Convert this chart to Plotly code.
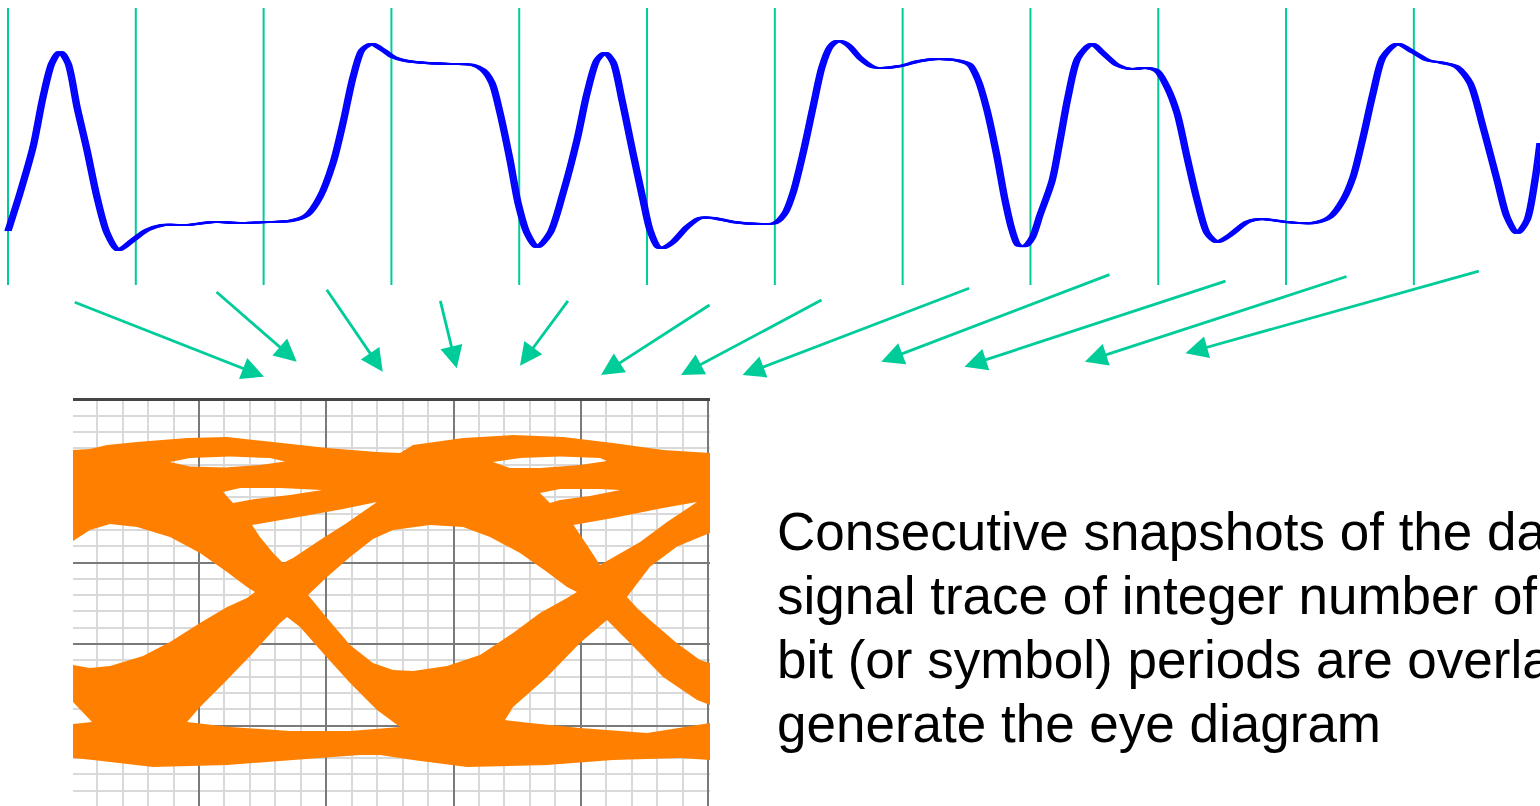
import plotly.graph_objects as go

# ---------------------------------------------------------------------------
# Serial data waveform: time in unit intervals (UI), amplitude in mV
# ---------------------------------------------------------------------------
wave_t = [0.000, 0.094, 0.196, 0.274, 0.344, 0.407, 0.469, 0.540, 0.618, 0.696,
          0.775, 0.861, 0.978, 1.088, 1.213, 1.401, 1.604, 1.815, 2.027, 2.207,
          2.340, 2.441, 2.543, 2.621, 2.700, 2.770, 2.848, 2.934, 3.013, 3.122,
          3.279, 3.482, 3.638, 3.717, 3.787, 3.850, 3.928, 3.991, 4.061, 4.139,
          4.241, 4.343, 4.452, 4.531, 4.609, 4.671, 4.734, 4.804, 4.890, 4.969,
          5.023, 5.086, 5.125, 5.203, 5.313, 5.415, 5.516, 5.673, 5.884, 6.002,
          6.080, 6.142, 6.221, 6.299, 6.369, 6.432, 6.495, 6.573, 6.667, 6.768,
          6.847, 6.980, 7.136, 7.269, 7.449, 7.527, 7.590, 7.660, 7.739, 7.801,
          7.856, 7.903, 7.958, 8.013, 8.075, 8.169, 8.232, 8.294, 8.372, 8.482,
          8.568, 8.678, 8.779, 8.912, 8.991, 9.069, 9.147, 9.225, 9.304, 9.382,
          9.460, 9.562, 9.695, 9.797, 10.008, 10.211, 10.344, 10.446, 10.524, 10.603,
          10.681, 10.759, 10.869, 10.994, 11.103, 11.228, 11.338, 11.440, 11.541, 11.651,
          11.729, 11.808, 11.886, 11.948, 11.987]
wave_mv = [-25, 70, 185, 310, 395, 422.5, 395, 285, 177.5, 60,
           -30, -72.5, -47.5, -22.5, -10, -10, -2.5, -5, -2.5, 0,
           15, 60, 145, 245, 360, 427.5, 442.5, 427.5, 410, 400,
           395, 392.5, 390, 377.5, 345, 270, 152.5, 45, -30, -65,
           -30, 70, 202.5, 320, 402.5, 420, 397.5, 302.5, 170, 52.5,
           -22.5, -65, -67.5, -52.5, -15, 7.5, 7.5, -2.5, -7.5, -5,
           20, 70, 170, 285, 385, 435, 450, 440, 407.5, 385,
           382.5, 387.5, 400, 405, 400, 390, 352.5, 277.5, 160, 52.5,
           -22.5, -60, -62.5, -42.5, 15, 100, 202.5, 310, 407.5, 442.5,
           420, 390, 380, 382.5, 375, 335, 270, 160, 52.5, -30,
           -52.5, -35, -2.5, 5, -2.5, -5, 10, 52.5, 110, 210,
           320, 410, 442.5, 422.5, 402.5, 395, 385, 345, 235, 102.5,
           10, -30, 2.5, 102.5, 195]

# Bit-period boundaries (UI) and the extent of the marker lines (mV)
bit_edges = [0, 1, 2, 3, 4, 5, 6, 7, 8, 9, 10, 11]
edge_top_mv = 532.5
edge_bottom_mv = -160.0

# Snapshot arrows (tail near the waveform, head at the eye display), UI / mV
arrow_tail_t = [0.511, 1.620, 2.486, 3.380, 4.390, 5.501, 6.377, 7.532, 8.630, 9.538, 10.485, 11.520]
arrow_tail_mv = [-201.75, -174.25, -168.25, -195.75, -195.75, -207.5, -195.75, -166.75, -132.5, -149.25, -137.5, -124.25]
arrow_tip_t = [2.003, 2.259, 2.932, 3.511, 4.006, 4.640, 5.266, 5.747, 6.833, 7.484, 8.426, 9.213]
arrow_tip_mv = [-389.25, -351.75, -376.75, -368.25, -361.75, -385.0, -385.0, -385.0, -351.75, -364.25, -351.75, -330.75]

# ---------------------------------------------------------------------------
# Eye diagram: accumulated traces, in screen divisions (x: time, y: amplitude)
# ---------------------------------------------------------------------------
eye_outline = [(0.010, 4.380), (0.143, 4.393), (0.277, 4.442), (0.513, 4.479), (0.906, 4.528),
               (1.220, 4.540), (1.582, 4.479), (2.006, 4.405), (2.399, 4.356), (2.580, 4.344),
               (2.682, 4.442), (3.075, 4.528), (3.468, 4.564), (3.860, 4.540), (4.253, 4.466),
               (4.647, 4.380), (5.016, 4.344),
               (5.016, 0.577), (4.780, 0.601), (4.253, 0.577), (3.735, 0.515), (3.106, 0.491),
               (2.682, 0.577), (2.422, 0.638), (2.265, 0.638), (1.739, 0.577), (1.220, 0.515),
               (0.639, 0.491), (0.167, 0.577), (0.010, 0.601)]

eye_open_left = [(0.010, 3.264), (0.143, 3.399), (0.301, 3.472), (0.513, 3.436), (0.772, 3.313),
                 (1.008, 3.117), (1.220, 2.883), (1.377, 2.699), (1.440, 2.638), (1.377, 2.564),
                 (1.220, 2.454), (1.008, 2.258), (0.772, 2.025), (0.560, 1.853), (0.301, 1.730),
                 (0.143, 1.706), (0.010, 1.742)]
eye_open_center = [(1.857, 2.601), (2.006, 2.822), (2.187, 3.067), (2.367, 3.288), (2.525, 3.399),
                   (2.815, 3.460), (3.075, 3.436), (3.287, 3.313), (3.523, 3.117), (3.735, 2.883),
                   (3.892, 2.699), (3.970, 2.638), (3.892, 2.564), (3.680, 2.380), (3.468, 2.135),
                   (3.208, 1.865), (2.949, 1.730), (2.682, 1.669), (2.525, 1.681), (2.367, 1.767),
                   (2.187, 1.988), (2.006, 2.319)]
eye_open_right = [(4.363, 2.577), (4.544, 2.949), (4.754, 3.194), (4.937, 3.313), (5.016, 3.362),
                  (5.016, 1.767), (4.937, 1.804), (4.754, 2.012), (4.544, 2.294), (4.442, 2.442)]
gap_above_cross1 = [(1.417, 3.460), (1.611, 3.513), (1.872, 3.583), (2.132, 3.656), (2.399, 3.742),
                    (2.161, 3.485), (1.951, 3.276), (1.739, 3.055), (1.660, 2.994), (1.582, 3.117),
                    (1.479, 3.313)]
gap_below_cross1 = [(1.692, 2.331), (1.794, 2.209), (1.974, 1.890), (2.187, 1.521), (2.399, 1.190),
                    (2.580, 0.982), (2.187, 0.933), (1.715, 0.933), (1.244, 0.982), (0.906, 1.043),
                    (1.008, 1.227), (1.220, 1.558), (1.424, 1.890), (1.637, 2.258)]
gap_above_cross2 = [(3.943, 3.460), (4.253, 3.546), (4.647, 3.669), (4.914, 3.742), (4.678, 3.497),
                    (4.466, 3.252), (4.151, 2.969), (4.049, 3.215)]
gap_below_cross2 = [(4.206, 2.294), (4.387, 2.012), (4.647, 1.595), (4.914, 1.313), (5.016, 1.252),
                    (5.016, 1.031), (4.521, 0.908), (3.994, 0.969), (3.601, 1.031), (3.405, 1.067),
                    (3.468, 1.227), (3.735, 1.595), (3.994, 2.012)]
gap_below_left = [(0.010, 1.288), (0.159, 1.043), (0.010, 1.018)]
slit_top_1 = [(0.772, 4.233), (0.929, 4.282), (1.244, 4.301), (1.558, 4.282), (1.676, 4.239),
              (1.479, 4.196), (1.204, 4.166), (0.929, 4.178)]
slit_top_2 = [(1.189, 3.865), (1.322, 3.914), (1.637, 3.914), (1.967, 3.890), (1.715, 3.828),
              (1.440, 3.779), (1.267, 3.730)]
slit_top_3 = [(3.310, 4.233), (3.523, 4.282), (3.837, 4.301), (4.151, 4.282), (4.206, 4.245),
              (3.994, 4.196), (3.680, 4.160), (3.444, 4.160)]
slit_top_4 = [(3.680, 3.853), (3.837, 3.902), (4.151, 3.902), (4.308, 3.890), (4.073, 3.816),
              (3.837, 3.767), (3.758, 3.730)]

eye_holes = [eye_open_left, eye_open_center, eye_open_right,
             gap_above_cross1, gap_below_cross1, gap_above_cross2, gap_below_cross2,
             gap_below_left, slit_top_1, slit_top_2, slit_top_3, slit_top_4]

caption_lines = ["Consecutive snapshots of the data",
                 "signal trace of integer number of",
                 "bit (or symbol) periods are overlapped to",
                 "generate the eye diagram"]

# ---------------------------------------------------------------------------
W, H = 1540, 806
BLUE = "#0000FF"
GREEN = "#00CC99"
ORANGE = "#FF8000"


def signed_area(pts):
    s = 0.0
    for (x1, y1), (x2, y2) in zip(pts, pts[1:] + pts[:1]):
        s += x1 * y2 - x2 * y1
    return s / 2.0


def closed_ring(pts):
    return [p[0] for p in pts] + [pts[0][0]], [p[1] for p in pts] + [pts[0][1]]


fig = go.Figure()

# bit-period marker lines
gx, gy = [], []
for t in bit_edges:
    gx += [t, t, None]
    gy += [edge_top_mv, edge_bottom_mv, None]
fig.add_trace(go.Scatter(x=gx, y=gy, mode="lines", line=dict(color=GREEN, width=2),
                         hoverinfo="skip", xaxis="x", yaxis="y"))

# waveform, drawn with a flat, wide pen (several horizontally offset strokes)
for pen_offset in [-0.022, -0.011, 0.0, 0.011, 0.022]:
    fig.add_trace(go.Scatter(x=[t + pen_offset for t in wave_t], y=wave_mv, mode="lines",
                             line=dict(color=BLUE, width=1.8, shape="spline", smoothing=0.8),
                             hoverinfo="skip", xaxis="x", yaxis="y"))

# eye diagram: outer envelope with the openings cut out (opposite winding)
outer_sign = signed_area(eye_outline)
ex, ey = closed_ring(eye_outline)
for hole in eye_holes:
    pts = hole if signed_area(hole) * outer_sign < 0 else hole[::-1]
    hx, hy = closed_ring(pts)
    ex += [None] + hx
    ey += [None] + hy
fig.add_trace(go.Scatter(x=ex, y=ey, mode="none", fill="toself", fillcolor=ORANGE,
                         hoverinfo="skip", xaxis="x2", yaxis="y2"))

# arrows from each bit period to the eye display
annotations = []
for tx, ty, hx, hy in zip(arrow_tail_t, arrow_tail_mv, arrow_tip_t, arrow_tip_mv):
    annotations.append(dict(x=hx, y=hy, ax=tx, ay=ty, xref="x", yref="y", axref="x", ayref="y",
                            text="", showarrow=True, arrowhead=2, arrowsize=1.6, arrowwidth=2.8,
                            arrowcolor=GREEN, standoff=0, startstandoff=0))

# caption
caption_centers_px = [531.6, 595.6, 659.6, 723.6]
for line, cy in zip(caption_lines, caption_centers_px):
    annotations.append(dict(x=776 / W, y=1 - cy / H, xref="paper", yref="paper",
                            xanchor="left", yanchor="middle", text=line, showarrow=False,
                            borderpad=0,
                            font=dict(family="Liberation Sans, Arial, sans-serif", size=53,
                                      color="#000000")))

eye_axis_common = dict(showgrid=True, gridcolor="#7a7a7a", gridwidth=1.5, dtick=1, tick0=0,
                       minor=dict(dtick=0.2, tick0=0, showgrid=True, gridcolor="#d9d9d9",
                                  gridwidth=2),
                       showticklabels=False, zeroline=False, ticks="", fixedrange=True)

fig.update_layout(
    width=W, height=H, margin=dict(l=0, r=0, t=0, b=0, pad=0),
    paper_bgcolor="white", plot_bgcolor="rgba(0,0,0,0)", showlegend=False,
    xaxis=dict(domain=[0, 1], range=[-0.0626, 11.987], visible=False, fixedrange=True),
    yaxis=dict(domain=[0, 1], range=[-1462.5, 552.5], visible=False, fixedrange=True),
    xaxis2=dict(domain=[73 / W, 710 / W], range=[0.0098, 5.0157], anchor="y2",
                side="top", showline=True, linecolor="#454545", linewidth=2.5,
                **eye_axis_common),
    yaxis2=dict(domain=[0, 1 - 400.5 / H], range=[0.0123, 4.988], anchor="x2",
                **eye_axis_common),
    annotations=annotations,
)

fig.write_html("out.html")
